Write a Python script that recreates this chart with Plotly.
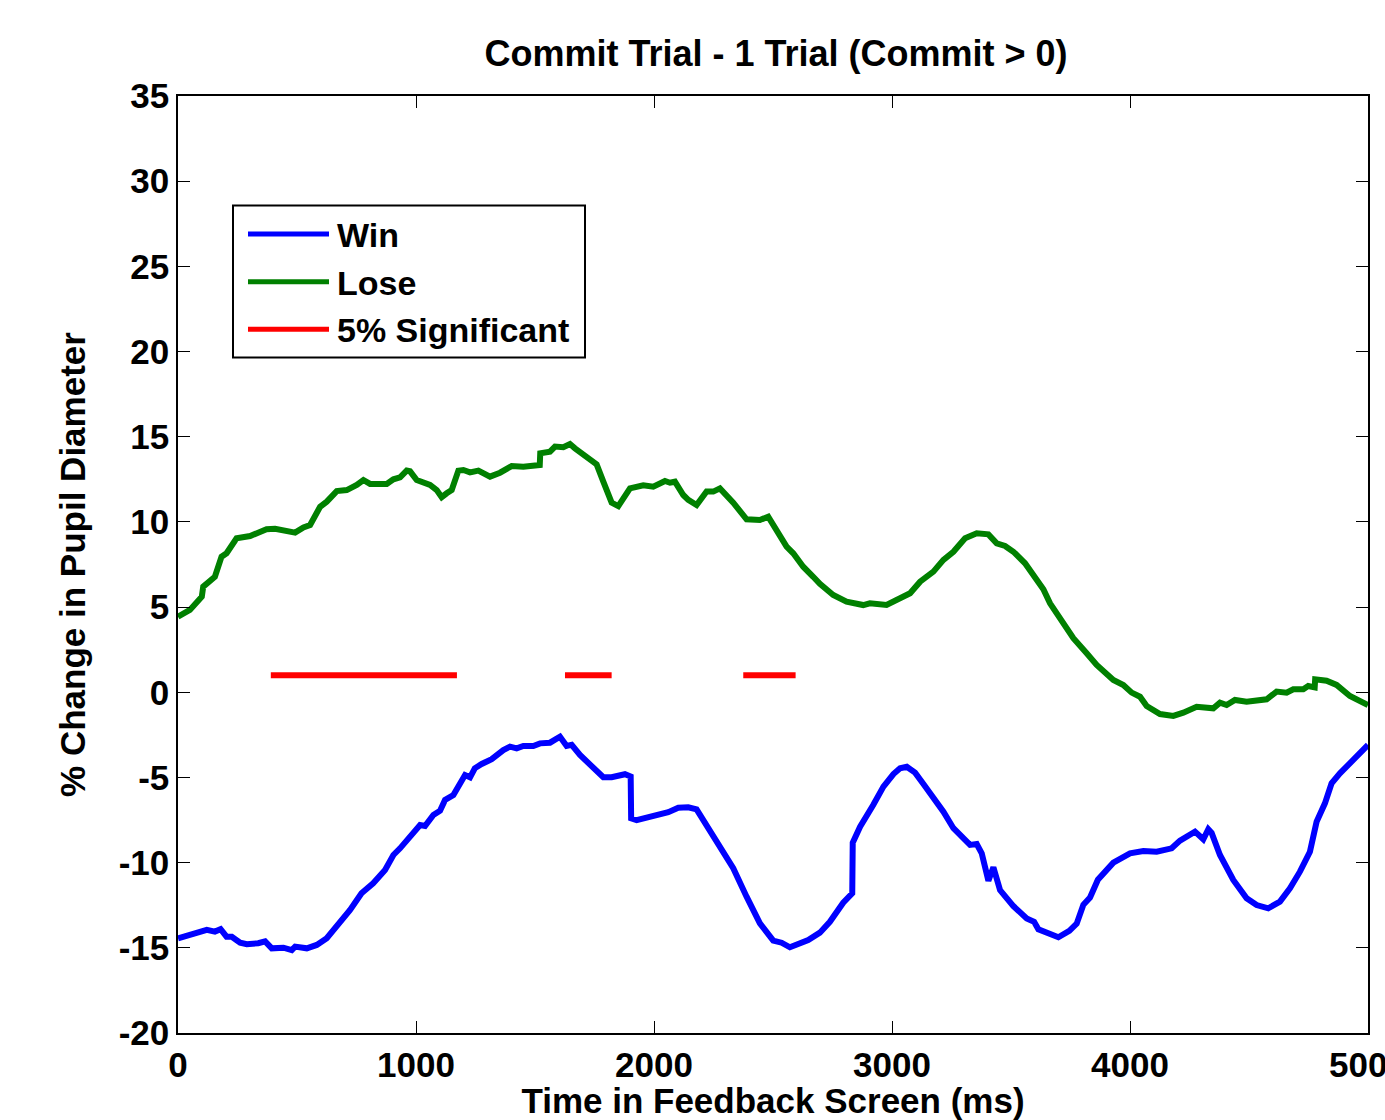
import plotly.graph_objects as go

# ---------------- data ----------------
lose_time = [0, 50, 100, 106, 155, 183, 204, 246, 303, 372, 408, 443, 492, 527, 555, 597, 625, 667, 709, 751,
             779, 807, 877, 905, 933, 961, 975, 1003, 1059, 1087, 1108, 1129, 1150, 1178, 1199, 1227, 1262, 1311,
             1353, 1402, 1451, 1520, 1522, 1563, 1584, 1619, 1647, 1668, 1703, 1759, 1787, 1822, 1850, 1871, 1899,
             1955, 1997, 2046, 2067, 2088, 2123, 2144, 2179, 2221, 2249, 2277, 2333, 2389, 2445, 2480, 2515, 2557,
             2585, 2627, 2669, 2697, 2753, 2809, 2879, 2907, 2977, 3034, 3076, 3118, 3174, 3216, 3258, 3307, 3356,
             3405, 3440, 3475, 3510, 3559, 3608, 3636, 3664, 3713, 3762, 3818, 3860, 3930, 3972, 4007, 4042, 4070,
             4126, 4182, 4224, 4280, 4350, 4378, 4406, 4441, 4490, 4574, 4616, 4658, 4686, 4728, 4749, 4776, 4778,
             4826, 4868, 4924, 4966, 5000]
lose_values = [4.44, 4.83, 5.61, 6.2, 6.78, 7.96, 8.16, 9.04, 9.17, 9.57, 9.60, 9.49, 9.37, 9.68, 9.82, 10.89, 11.19,
               11.81, 11.87, 12.17, 12.46, 12.23, 12.23, 12.50, 12.62, 13.01, 12.97, 12.46, 12.17, 11.87, 11.45, 11.68,
               11.87, 13.01, 13.05, 12.91, 13.01, 12.66, 12.89, 13.28, 13.24, 13.34, 14.03, 14.12, 14.42, 14.38, 14.57,
               14.32, 13.93, 13.38, 12.36, 11.13, 10.93, 11.39, 11.97, 12.15, 12.07, 12.40, 12.30, 12.36, 11.58, 11.29,
               10.99, 11.78, 11.78, 11.97, 11.13, 10.15, 10.11, 10.31, 9.53, 8.55, 8.16, 7.37, 6.78, 6.36, 5.71, 5.32,
               5.12, 5.22, 5.12, 5.52, 5.81, 6.49, 7.08, 7.77, 8.25, 9.04, 9.33, 9.27, 8.74, 8.59, 8.25, 7.57, 6.59,
               6.05, 5.22, 4.14, 3.17, 2.29, 1.60, 0.72, 0.43, -0.02, -0.26, -0.81, -1.28, -1.39, -1.20, -0.85, -0.94,
               -0.61, -0.75, -0.45, -0.55, -0.41, 0.04, -0.02, 0.18, 0.18, 0.37, 0.29, 0.76, 0.68, 0.43, -0.22, -0.55,
               -0.75]

win_time = [0, 64, 121, 155, 179, 204, 226, 261, 289, 337, 366, 394, 443, 478, 492, 541, 583, 625, 681, 723, 771,
            820, 870, 905, 933, 982, 1017, 1038, 1073, 1101, 1122, 1157, 1185, 1206, 1227, 1247, 1276, 1318, 1367,
            1395, 1423, 1451, 1493, 1521, 1563, 1605, 1633, 1654, 1689, 1724, 1752, 1787, 1822, 1850, 1878, 1902,
            1904, 1927, 1969, 2025, 2060, 2102, 2144, 2179, 2221, 2277, 2333, 2389, 2445, 2501, 2536, 2571, 2613,
            2648, 2697, 2739, 2795, 2833, 2835, 2866, 2921, 2964, 3006, 3034, 3062, 3097, 3132, 3174, 3216, 3258,
            3300, 3328, 3356, 3377, 3405, 3426, 3454, 3510, 3566, 3597, 3615, 3655, 3699, 3745, 3776, 3804, 3832,
            3865, 3930, 4000, 4056, 4112, 4175, 4210, 4238, 4273, 4308, 4329, 4343, 4378, 4434, 4490, 4532, 4581,
            4630, 4672, 4714, 4756, 4784, 4819, 4847, 4882, 4938, 5000]
win_values = [-14.44, -14.21, -13.95, -14.05, -13.91, -14.35, -14.35, -14.70, -14.79, -14.73, -14.62, -15.03, -14.99,
              -15.13, -14.93, -15.03, -14.83, -14.44, -13.56, -12.78, -11.80, -11.21, -10.43, -9.55, -9.16, -8.28,
              -7.79, -7.85, -7.20, -6.95, -6.32, -6.03, -5.44, -4.86, -4.99, -4.46, -4.21, -3.93, -3.39, -3.19, -3.29,
              -3.15, -3.15, -3.00, -2.96, -2.61, -3.15, -3.09, -3.68, -4.13, -4.56, -4.99, -4.99, -4.86, -4.81, -4.95,
              -7.40, -7.50, -7.36, -7.16, -7.04, -6.78, -6.75, -6.87, -7.79, -8.96, -10.33, -12.00, -13.56, -14.58,
              -14.70, -14.97, -14.70, -14.54, -14.11, -13.47, -12.35, -11.80, -8.83, -7.89, -6.62, -5.54, -4.80,
              -4.46, -4.37, -4.72, -5.38, -6.13, -7.01, -7.98, -8.57, -8.96, -8.91, -9.45, -11.06, -10.27, -11.61,
              -12.55, -13.27, -13.47, -13.91, -14.13, -14.38, -14.00, -13.58, -12.47, -12.05, -11.00, -10.00, -9.45,
              -9.32, -9.36, -9.16, -8.71, -8.51, -8.18, -8.63, -8.04, -8.25, -9.55, -11.02, -12.09, -12.49, -12.68,
              -12.29, -11.51, -10.53, -9.36, -7.60, -6.52, -5.34, -4.76, -3.97, -3.09]

sig_start = [390, 1626, 2375]
sig_end = [1172, 1822, 2595]
sig_level = 1

series_names = ["Win", "Lose", "5% Significant"]
series_colors = ["#0000FF", "#008000", "#FF0000"]

x_ticks = [0, 1000, 2000, 3000, 4000, 5000]
y_ticks = [-20, -15, -10, -5, 0, 5, 10, 15, 20, 25, 30, 35]

title_text = "Commit Trial - 1 Trial (Commit > 0)"
x_title = "Time in Feedback Screen (ms)"
y_title = "% Change in Pupil Diameter"

# ---------------- figure ----------------
FONT = "Liberation Sans, Arial, Helvetica, sans-serif"
fig = go.Figure()

fig.add_trace(go.Scatter(x=win_time, y=win_values, mode="lines", name=series_names[0],
                         line=dict(color=series_colors[0], width=6), showlegend=False))
fig.add_trace(go.Scatter(x=lose_time, y=lose_values, mode="lines", name=series_names[1],
                         line=dict(color=series_colors[1], width=6), showlegend=False))

sx, sy = [], []
for a, b in zip(sig_start, sig_end):
    sx += [a, b, None]
    sy += [sig_level, sig_level, None]
fig.add_trace(go.Scatter(x=sx, y=sy, mode="lines", name=series_names[2],
                         line=dict(color=series_colors[2], width=6), showlegend=False))

# manual legend (MATLAB style: long line samples)
W, H = 1385, 1120
L, R, T, B = 178, 17, 96, 87
pw, ph = W - L - R, H - T - B


def px(xp):
    return (xp - L) / pw


def py(yp):
    return (H - B - yp) / ph


fig.add_shape(type="rect", xref="paper", yref="paper",
              x0=px(233), x1=px(585), y0=py(357.5), y1=py(205.5),
              line=dict(color="black", width=2), fillcolor="white", layer="above")
legend_y = [234, 281.7, 329.3]
for name, col, yy in zip(series_names, series_colors, legend_y):
    fig.add_shape(type="line", xref="paper", yref="paper",
                  x0=px(248), x1=px(329), y0=py(yy), y1=py(yy),
                  line=dict(color=col, width=5), layer="above")
    fig.add_annotation(xref="paper", yref="paper", x=px(335), y=py(yy + 1),
                       xanchor="left", yanchor="middle", text=name, showarrow=False,
                       font=dict(family=FONT, size=34, color="black", weight="bold"))

axis_common = dict(showline=True, linecolor="black", linewidth=1.5, mirror="ticks",
                   ticks="inside", ticklen=12, tickwidth=1.2, tickcolor="black",
                   showgrid=False, zeroline=False,
                   tickfont=dict(family=FONT, size=35, color="black", weight="bold"))

fig.update_layout(
    width=W, height=H,
    margin=dict(l=L, r=R, t=T, b=B, autoexpand=False),
    paper_bgcolor="white", plot_bgcolor="white",
    title=dict(text=title_text, x=776 / W, xanchor="center", y=1 - 53 / H, yanchor="middle",
               font=dict(family=FONT, size=36, color="black", weight="bold")),
    xaxis=dict(range=[0, 5000], tickvals=x_ticks, ticktext=[str(v) for v in x_ticks],
               ticklabelstandoff=0, ticklabeloverflow="allow",
               title=dict(text=x_title, standoff=2, font=dict(family=FONT, size=35, color="black", weight="bold")),
               **axis_common),
    yaxis=dict(range=[-20, 35], tickvals=y_ticks, ticktext=[str(v) for v in y_ticks],
               ticklabelstandoff=0,
               title=dict(text=y_title, standoff=22, font=dict(family=FONT, size=35, color="black", weight="bold")),
               **axis_common),
)

fig.write_html("out.html")
